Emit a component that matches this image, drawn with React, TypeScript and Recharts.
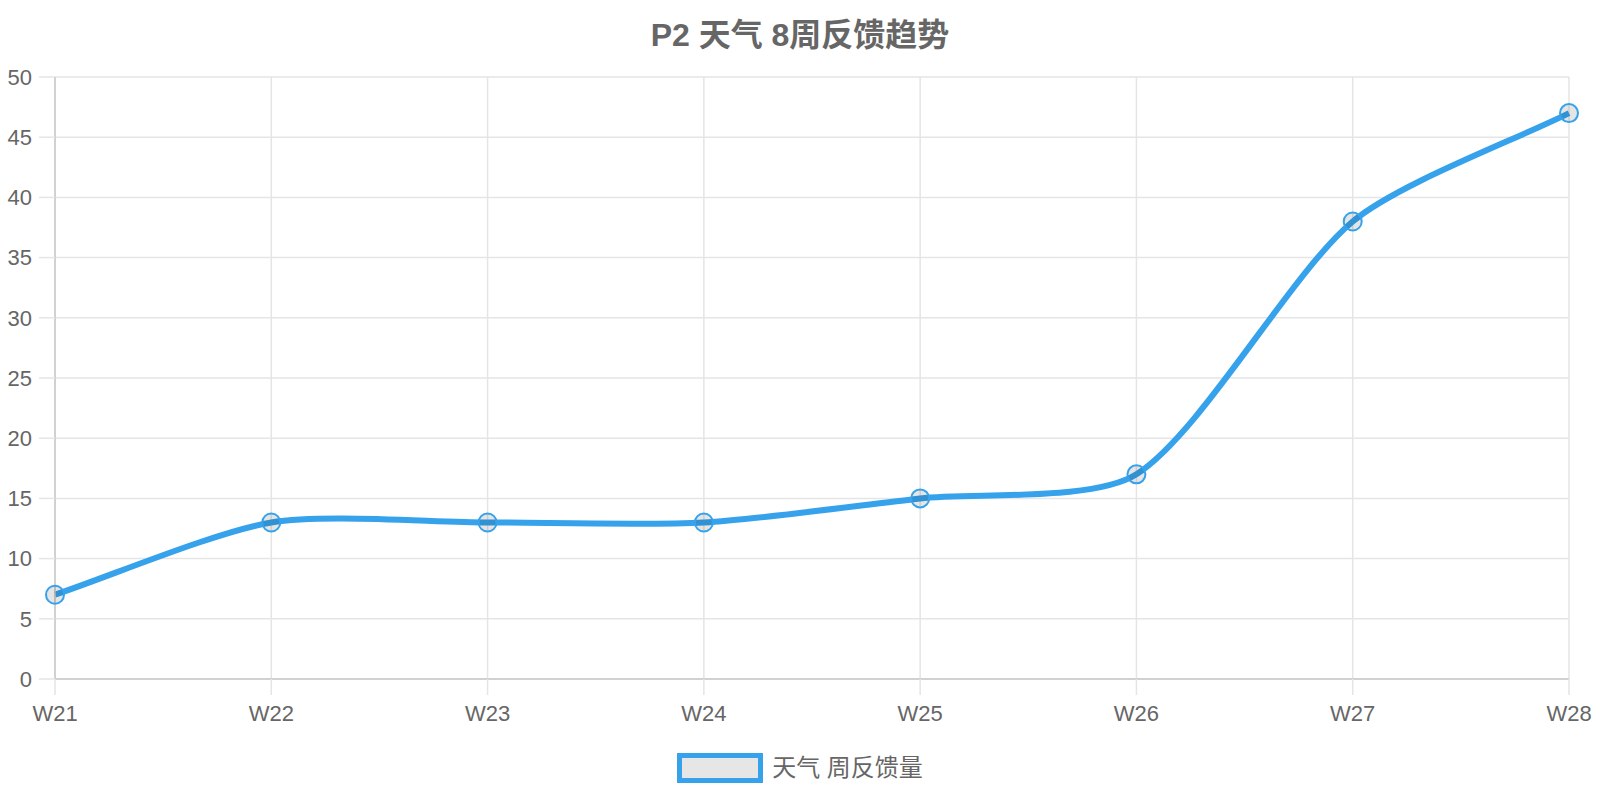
import { LineChart, Line, XAxis, YAxis, CartesianGrid } from "recharts";

const weeks = ["W21", "W22", "W23", "W24", "W25", "W26", "W27", "W28"];
const feedback = [7, 13, 13, 13, 15, 17, 38, 47];
const yTicks = [0, 5, 10, 15, 20, 25, 30, 35, 40, 45, 50];

const title = "P2 天气 8周反馈趋势";
const seriesName = "天气 周反馈量";

const data = weeks.map((week, i) => ({ week, value: feedback[i] }));

const FONT = "'Liberation Sans', Arial, 'Noto Sans CJK SC', sans-serif";
const BLUE = "#36A2EB";
const GRID = "#e5e5e5";
const AXIS = "#c9c9c9";
const TEXT = "#666";

// chart.js style spline (control points from neighbours), tension
const splineCurve = (context: any) => {
  let pts: [number, number][] = [];
  return {
    areaStart() {},
    areaEnd() {},
    lineStart() {
      pts = [];
    },
    point(x: number, y: number) {
      pts.push([+x, +y]);
    },
    lineEnd() {
      if (!pts.length) return;
      const t = 0.25;
      const cps = pts.map((cur, i) => {
        const prev = pts[i - 1] || cur;
        const next = pts[i + 1] || cur;
        const d01 = Math.hypot(cur[0] - prev[0], cur[1] - prev[1]);
        const d12 = Math.hypot(next[0] - cur[0], next[1] - cur[1]);
        let s01 = d01 / (d01 + d12);
        let s12 = d12 / (d01 + d12);
        if (isNaN(s01)) s01 = 0;
        if (isNaN(s12)) s12 = 0;
        const fa = t * s01;
        const fb = t * s12;
        return {
          px: cur[0] - fa * (next[0] - prev[0]),
          py: cur[1] - fa * (next[1] - prev[1]),
          nx: cur[0] + fb * (next[0] - prev[0]),
          ny: cur[1] + fb * (next[1] - prev[1]),
        };
      });
      context.moveTo(pts[0][0], pts[0][1]);
      for (let i = 1; i < pts.length; i++) {
        context.bezierCurveTo(cps[i - 1].nx, cps[i - 1].ny, cps[i].px, cps[i].py, pts[i][0], pts[i][1]);
      }
    },
  };
};

export default function App() {
  return (
    <div style={{ position: "fixed", left: 0, top: 0, width: 1600, height: 800, background: "#fff", fontFamily: FONT }}>
      <div
        style={{
          position: "absolute",
          top: 0,
          left: 0,
          width: 1600,
          height: 70,
          lineHeight: "70px",
          textAlign: "center",
          fontSize: 32,
          fontWeight: "bold",
          color: TEXT,
        }}
      >
        {title}
      </div>

      <LineChart width={1600} height={800} data={data} margin={{ top: 77, right: 31, left: 0, bottom: 61 }}>
        <CartesianGrid stroke={GRID} strokeWidth={1.5} />
        <XAxis
          dataKey="week"
          height={60}
          tickSize={16}
          tickMargin={10}
          axisLine={{ stroke: AXIS, strokeWidth: 1.5 }}
          tickLine={{ stroke: GRID, strokeWidth: 1.5 }}
          tick={{ fontSize: 22, fill: TEXT, fontFamily: FONT }}
        />
        <YAxis
          width={55}
          domain={[0, 50]}
          ticks={yTicks}
          interval={0}
          tickSize={16}
          tickMargin={7}
          axisLine={{ stroke: AXIS, strokeWidth: 1.5 }}
          tickLine={{ stroke: GRID, strokeWidth: 1.5 }}
          tick={{ fontSize: 22, fill: TEXT, fontFamily: FONT }}
        />
        <Line
          dataKey="value"
          name={seriesName}
          type={splineCurve as any}
          stroke={BLUE}
          strokeWidth={6}
          dot={{ r: 9, fill: "rgba(0,0,0,0.1)", stroke: BLUE, strokeWidth: 2 }}
          activeDot={false}
          isAnimationActive={false}
        />
      </LineChart>

      <div
        style={{
          position: "absolute",
          top: 753,
          left: 0,
          width: 1600,
          display: "flex",
          justifyContent: "center",
          alignItems: "center",
        }}
      >
        <div
          style={{
            width: 86,
            height: 30,
            boxSizing: "border-box",
            border: `5px solid ${BLUE}`,
            background: "#e6e6e6",
            marginRight: 9,
          }}
        />
        <span style={{ fontSize: 24, color: TEXT, lineHeight: "30px" }}>{seriesName}</span>
      </div>
    </div>
  );
}
